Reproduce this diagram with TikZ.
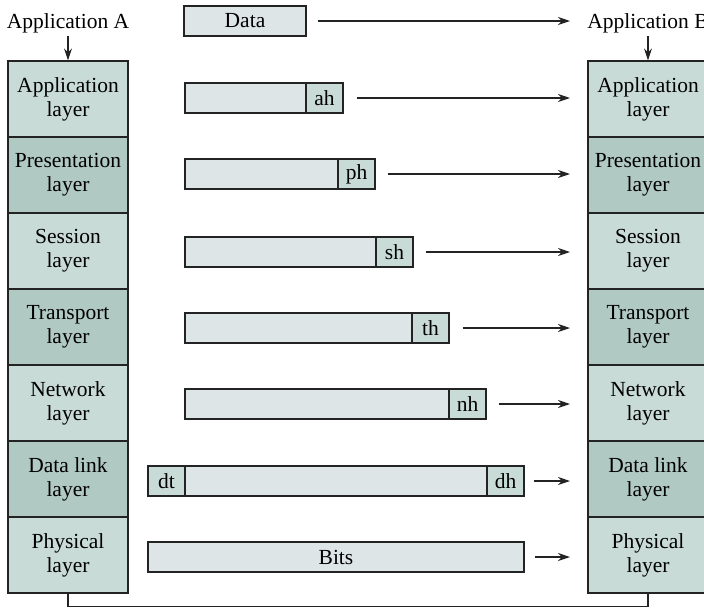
\documentclass[tikz,border=0pt]{standalone}
\usepackage{fontspec}
\setmainfont{Liberation Serif}
\newfontfamily\labelfont{Liberation Serif}
\usetikzlibrary{arrows.meta}
\definecolor{layerlight}{RGB}{201,219,215}
\definecolor{layerdark} {RGB}{177,201,195}
\definecolor{pktgray}   {RGB}{221,229,230}
\definecolor{linegray}  {RGB}{35,35,35}

\begin{document}
\begin{tikzpicture}[
  x=1pt, y=-1pt,
  font=\labelfont\fontsize{21.5}{24}\selectfont, >={Stealth[length=12pt,width=8pt]},
  lay0/.style={rectangle, draw=linegray, fill=layerlight, line width=1.2pt,
               minimum width=120pt, minimum height=76pt, align=center, inner sep=0pt},
  lay1/.style={lay0, fill=layerdark},
  body/.style={rectangle, draw=linegray, fill=pktgray, line width=1.2pt,
               minimum height=30pt, inner sep=0pt},
  hdr/.style={body, fill=layerlight, minimum width=37pt},
  flow/.style={->, draw=linegray, line width=1.2pt},
]
\useasboundingbox (0,0) rectangle (704,614);

% Application labels
\node[anchor=base] (appA) at (68,28) {Application A};
\node[anchor=base] (appB) at (648,28) {Application B};

% Left stack
\node[lay0] (la1) at (68, 99) {Application\\layer};
\node[lay1] (la2) at (68,175) {Presentation\\layer};
\node[lay0] (la3) at (68,251) {Session\\layer};
\node[lay1] (la4) at (68,327) {Transport\\layer};
\node[lay0] (la5) at (68,403) {Network\\layer};
\node[lay1] (la6) at (68,479) {Data link\\layer};
\node[lay0] (la7) at (68,555) {Physical\\layer};

% Right stack
\node[lay0] (rb1) at (648, 99) {Application\\layer};
\node[lay1] (rb2) at (648,175) {Presentation\\layer};
\node[lay0] (rb3) at (648,251) {Session\\layer};
\node[lay1] (rb4) at (648,327) {Transport\\layer};
\node[lay0] (rb5) at (648,403) {Network\\layer};
\node[lay1] (rb6) at (648,479) {Data link\\layer};
\node[lay0] (rb7) at (648,555) {Physical\\layer};

% Packets
\node[body, minimum width=122pt] (data) at (245, 21) {Data};
\node[body, minimum width=121pt] (pk1) at (245.5, 98) {};
\node[hdr] (ah) at (324.5, 98) {ah};
\node[body, minimum width=153pt] (pk2) at (261.5,174) {};
\node[hdr] (ph) at (356.5,174) {ph};
\node[body, minimum width=191pt] (pk3) at (280.5,252) {};
\node[hdr] (sh) at (394.5,252) {sh};
\node[body, minimum width=227pt] (pk4) at (298.5,328) {};
\node[hdr] (th) at (430.5,328) {th};
\node[body, minimum width=264pt] (pk5) at (317,404) {};
\node[hdr] (nh) at (467.5,404) {nh};
\node[hdr] (dt) at (166.5,481) {dt};
\node[body, minimum width=302pt] (pk6) at (336,481) {};
\node[hdr] (dh) at (505.5,481) {dh};
\node[body, minimum width=376pt] (bits) at (336,557) {Bits};

% Arrows
\coordinate (tipx) at (570,0);
\draw[flow] (appA.south) -- (la1.north);
\draw[flow] (appB.south) -- (rb1.north);
\draw[flow] ([xshift=11pt]data.east) -- (data.east -| tipx);
\draw[flow] ([xshift=13pt]ah.east) -- (ah.east -| tipx);
\draw[flow] ([xshift=12pt]ph.east) -- (ph.east -| tipx);
\draw[flow] ([xshift=12pt]sh.east) -- (sh.east -| tipx);
\draw[flow] ([xshift=13pt]th.east) -- (th.east -| tipx);
\draw[flow] ([xshift=12pt]nh.east) -- (nh.east -| tipx);
\draw[flow] ([xshift=9pt]dh.east) -- (dh.east -| tipx);
\draw[flow] ([xshift=10pt]bits.east) -- (bits.east -| tipx);

% Physical link
\draw[draw=linegray, line width=1.2pt] (la7.south) -- ++(0,13) -| (rb7.south);

\end{tikzpicture}
\end{document}
